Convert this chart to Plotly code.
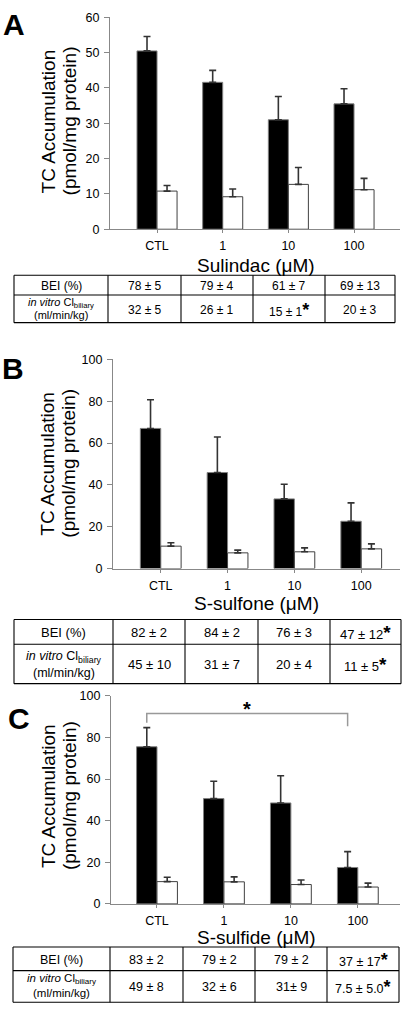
import plotly.graph_objects as go

W, H = 410, 1026
FONT = "Liberation Sans, Arial, sans-serif"

categories = ["CTL", "1", "10", "100"]

# Panel A: Sulindac
a_black = [50.5, 41.6, 31.0, 35.5]
a_black_err = [4.1, 3.4, 6.6, 4.3]
a_white = [10.8, 9.2, 12.7, 11.2]
a_white_err = [1.6, 2.2, 4.8, 3.2]
a_bei = ["78 ± 5", "79 ± 4", "61 ± 7", "69 ± 13"]
a_bei_sig = [False, False, False, False]
a_cl = ["32 ± 5", "26 ± 1", "15 ± 1", "20 ± 3"]
a_cl_sig = [False, False, True, False]

# Panel B: S-sulfone
b_black = [67.0, 45.9, 33.3, 22.6]
b_black_err = [13.7, 17.0, 7.0, 8.8]
b_white = [10.7, 7.5, 8.0, 9.4]
b_white_err = [1.6, 1.3, 1.9, 2.4]
b_bei = ["82 ± 2", "84 ± 2", "76 ± 3", "47 ± 12"]
b_bei_sig = [False, False, False, True]
b_cl = ["45 ± 10", "31 ± 7", "20 ± 4", "11 ± 5"]
b_cl_sig = [False, False, False, True]

# Panel C: S-sulfide
c_black = [75.5, 50.6, 48.5, 17.5]
c_black_err = [9.2, 8.3, 13.1, 7.6]
c_white = [10.7, 10.6, 9.3, 8.1]
c_white_err = [2.1, 2.4, 2.2, 1.9]
c_bei = ["83 ± 2", "79 ± 2", "79 ± 2", "37 ± 17"]
c_bei_sig = [False, False, False, True]
c_cl = ["49 ± 8", "32 ± 6", "31± 9", "7.5 ± 5.0"]
c_cl_sig = [False, False, False, True]

# significance bracket in panel C (CTL vs 100)
bracket_from, bracket_to = 0, 3
bracket_y, bracket_left_end, bracket_right_end = 91.5, 87.0, 85.3

xpos = list(range(len(categories)))

def px(x):
    return x / W

def py(y):
    return 1 - y / H

panels = [
    dict(black=a_black, black_err=a_black_err, white=a_white, white_err=a_white_err,
         bei=a_bei, bei_sig=a_bei_sig, cl=a_cl, cl_sig=a_cl_sig,
         xl=110, xr=400, y0=225.3, ytop=10.5, ymax=60, dtick=10, xrange=[-0.716, 3.70],
         xtitle="Sulindac (μM)", xtitle_y=262, letter="A", letter_pos=(14, 18),
         ytitle_c=116, table_cols=[14, 108, 181, 253, 325, 395],
         table_rows=[272, 292, 320], left_lines=(300, 312.5), tfs=12, lfs=11),
    dict(black=b_black, black_err=b_black_err, white=b_white, white_err=b_white_err,
         bei=b_bei, bei_sig=b_bei_sig, cl=b_cl, cl_sig=b_cl_sig,
         xl=113, xr=400, y0=569.3, ytop=357.3, ymax=100, dtick=20, xrange=[-0.714, 3.58],
         xtitle="S-sulfone (μM)", xtitle_y=605, letter="B", letter_pos=(13, 367),
         ytitle_c=463, table_cols=[14, 113, 185, 258, 330, 401],
         table_rows=[621, 646, 686], left_lines=(659, 675), tfs=13, lfs=12.5),
    dict(black=c_black, black_err=c_black_err, white=c_white, white_err=c_white_err,
         bei=c_bei, bei_sig=c_bei_sig, cl=c_cl, cl_sig=c_cl_sig,
         xl=111, xr=400, y0=909.3, ytop=698.3, ymax=100, dtick=20, xrange=[-0.687, 3.63],
         xtitle="S-sulfide (μM)", xtitle_y=943, letter="C", letter_pos=(19, 721),
         ytitle_c=800, table_cols=[13, 110, 183, 255, 327, 399],
         table_rows=[953, 977, 1009], left_lines=(985.5, 1000), tfs=12.5, lfs=11.5),
]

fig = go.Figure()
layout = dict(width=W, height=H, margin=dict(l=0, r=0, t=0, b=0),
              paper_bgcolor="white", plot_bgcolor="white", showlegend=False,
              barmode="group", bargap=0.39, bargroupgap=0,
              font=dict(family=FONT, color="black"))
annotations = []
shapes = []

def ann(text, x, y, size, **kw):
    d = dict(text=text, x=px(x), y=py(y), xref="paper", yref="paper", showarrow=False,
             xanchor="center", yanchor="middle", font=dict(size=size, family=FONT, color="black"))
    d.update(kw)
    annotations.append(d)

for i, p in enumerate(panels):
    n = "" if i == 0 else str(i + 1)
    xa, ya = "x" + n, "y" + n
    fig.add_trace(go.Bar(x=xpos, y=p["black"], xaxis=xa, yaxis=ya,
                         marker=dict(color="black", line=dict(color="#808080", width=1)),
                         error_y=dict(type="data", array=p["black_err"], arrayminus=[0] * 4,
                                      symmetric=False, color="#333333", thickness=1.6, width=3.5)))
    fig.add_trace(go.Bar(x=xpos, y=p["white"], xaxis=xa, yaxis=ya,
                         marker=dict(color="white", line=dict(color="#404040", width=1)),
                         error_y=dict(type="data", array=p["white_err"], arrayminus=[0] * 4,
                                      symmetric=False, color="#333333", thickness=1.6, width=3.5)))
    layout["xaxis" + n] = dict(domain=[px(p["xl"]), px(p["xr"])], range=p["xrange"],
                               anchor=ya, tickmode="array", tickvals=xpos, ticktext=categories,
                               ticks="outside", ticklen=3, tickcolor="#888888",
                               showline=True, linecolor="#888888", linewidth=1.2,
                               showgrid=False, zeroline=False, fixedrange=True,
                               tickfont=dict(size=12.5, family=FONT, color="black"),
                               ticklabelstandoff=2)
    layout["yaxis" + n] = dict(domain=[py(p["y0"]), py(p["ytop"])], range=[0, p["ymax"]],
                               anchor=xa, dtick=p["dtick"], ticks="outside", ticklen=5,
                               tickcolor="#888888", showline=True, linecolor="#888888",
                               linewidth=1.2, showgrid=False, zeroline=False, fixedrange=True,
                               tickfont=dict(size=12.5, family=FONT, color="black"),
                               ticklabelstandoff=2)
    ann("TC Accumulation", 48, p["ytitle_c"], 19, textangle=-90)
    ann("(pmol/mg protein)", 69, p["ytitle_c"], 19, textangle=-90)
    ann(p["xtitle"], 256, p["xtitle_y"], 19)
    ann("<b>" + p["letter"] + "</b>", p["letter_pos"][0], p["letter_pos"][1], 30)

    cols, rows = p["table_cols"], p["table_rows"]
    for cx in cols:
        shapes.append(dict(type="line", xref="paper", yref="paper",
                           x0=px(cx), x1=px(cx), y0=py(rows[0]), y1=py(rows[-1]),
                           line=dict(color="black", width=1.1)))
    for ry in rows:
        shapes.append(dict(type="line", xref="paper", yref="paper",
                           x0=px(cols[0]), x1=px(cols[-1]), y0=py(ry), y1=py(ry),
                           line=dict(color="black", width=1.1)))
    tfs = p["tfs"]
    r1 = (rows[0] + rows[1]) / 2
    r2 = (rows[1] + rows[2]) / 2
    lc = (cols[0] + cols[1]) / 2
    ann("BEI (%)", lc, r1 + 1, tfs)
    ann("<i>in vitro</i> Cl<sub>biliary</sub>", lc, p["left_lines"][0], p["lfs"])
    ann("(ml/min/kg)", lc, p["left_lines"][1], p["lfs"])
    star = '<span style="font-size:%dpx"><b>*</b></span>' % int(tfs + 6)
    for j in range(4):
        cc = (cols[j + 1] + cols[j + 2]) / 2
        t1 = p["bei"][j] + (star if p["bei_sig"][j] else "")
        t2 = p["cl"][j] + (star if p["cl_sig"][j] else "")
        ann(t1, cc, r1 + 1, tfs)
        ann(t2, cc, r2 + 1, tfs)

# bracket in panel C
off = -(1 - 0.39) / 4
bx0 = xpos[bracket_from] + off
bx1 = xpos[bracket_to] + off
shapes.append(dict(type="path", xref="x3", yref="y3",
                   path="M %f,%f L %f,%f L %f,%f L %f,%f" % (bx0, bracket_left_end, bx0, bracket_y,
                                                             bx1, bracket_y, bx1, bracket_right_end),
                   line=dict(color="#999999", width=1.5)))
annotations.append(dict(text="<b>*</b>", x=(bx0 + bx1) / 2, y=bracket_y + 2.2, xref="x3", yref="y3",
                        showarrow=False, xanchor="center", yanchor="middle",
                        font=dict(size=20, family=FONT, color="black")))

layout["annotations"] = annotations
layout["shapes"] = shapes
fig.update_layout(**layout)
fig.write_html("out.html", config={"displayModeBar": False},
               post_script="document.body.style.margin='0px';document.body.style.overflow='hidden';")
